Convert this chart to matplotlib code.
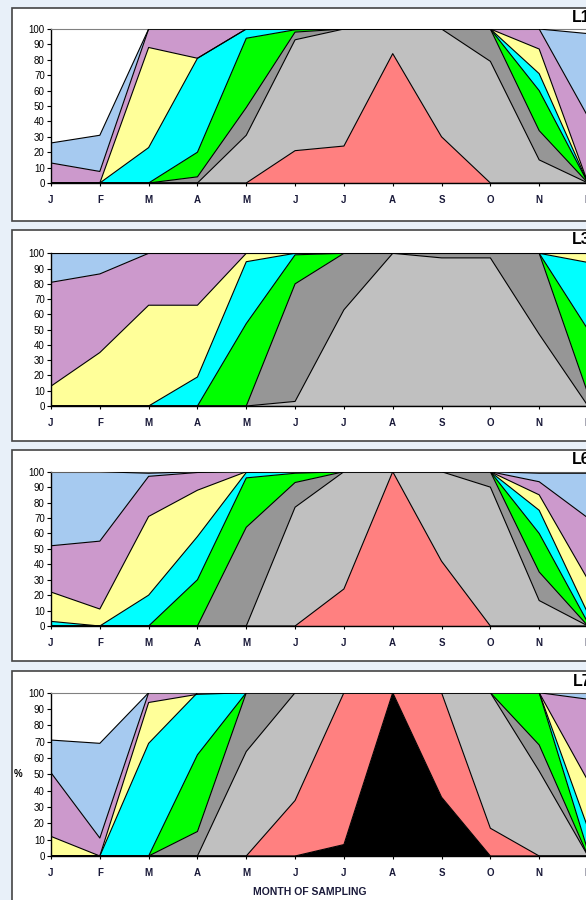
import matplotlib
matplotlib.use('Agg')
import matplotlib.pyplot as plt
import numpy as np
from matplotlib.patches import Rectangle

plt.rcParams['font.family'] = ['Liberation Sans', 'DejaVu Sans']

months = ['J', 'F', 'M', 'A', 'M', 'J', 'J', 'A', 'S', 'O', 'N', 'D']
band_colors = ['#000000', '#FF8080', '#C0C0C0', '#969696', '#00FF00',
               '#00FFFF', '#FFFF99', '#CC99CC', '#A6CAF0']

# cumulative top of each band (%), bottom band first
L1_black = [0, 0, 0, 0, 0, 0, 0, 0, 0, 0, 0, 0]
L1_red = [0, 0, 0, 0, 0, 21, 24, 84, 30, 0, 0, 0]
L1_lgray = [0, 0, 0, 0, 31, 93, 100, 100, 100, 79, 15, 0]
L1_dgray = [0, 0, 0, 4, 49, 98, 100, 100, 100, 100, 34, 0]
L1_green = [0, 0, 0, 20, 94, 99.5, 100, 100, 100, 100, 60, 0]
L1_cyan = [0, 0, 23, 81, 100, 100, 100, 100, 100, 100, 71, 0]
L1_yellow = [0, 0, 88, 81, 100, 100, 100, 100, 100, 100, 87, 0]
L1_lilac = [13, 7.5, 100, 100, 100, 100, 100, 100, 100, 100, 100, 43]
L1_blue = [26, 31, 100, 100, 100, 100, 100, 100, 100, 100, 100, 97]

L3_black = [0, 0, 0, 0, 0, 0, 0, 0, 0, 0, 0, 0]
L3_red = [0, 0, 0, 0, 0, 0, 0, 0, 0, 0, 0, 0]
L3_lgray = [0, 0, 0, 0, 0, 3, 63, 100, 97, 97, 47, 0]
L3_dgray = [0, 0, 0, 0, 0, 80, 100, 100, 100, 100, 100, 8]
L3_green = [0, 0, 0, 0, 54, 99, 100, 100, 100, 100, 100, 50]
L3_cyan = [0, 0, 0, 19, 94.5, 100, 100, 100, 100, 100, 100, 94]
L3_yellow = [13, 35, 66, 66, 100, 100, 100, 100, 100, 100, 100, 100]
L3_lilac = [81, 86.5, 100, 100, 100, 100, 100, 100, 100, 100, 100, 100]
L3_blue = [100, 100, 100, 100, 100, 100, 100, 100, 100, 100, 100, 100]

L6_black = [0, 0, 0, 0, 0, 0, 0, 0, 0, 0, 0, 0]
L6_red = [0, 0, 0, 0, 0, 0, 24, 100, 42, 0, 0, 0]
L6_lgray = [0, 0, 0, 0, 0, 77, 100, 100, 100, 90, 16.5, 0]
L6_dgray = [0, 0, 0, 0, 64, 93, 100, 100, 100, 100, 35, 0]
L6_green = [0, 0, 0, 30, 96, 99, 100, 100, 100, 100, 60, 2]
L6_cyan = [3, 0, 20, 58, 99.5, 100, 100, 100, 100, 100, 75, 8]
L6_yellow = [22, 11, 71, 88, 100, 100, 100, 100, 100, 100, 85, 30]
L6_lilac = [52, 55, 97, 99.5, 100, 100, 100, 100, 100, 100, 93.5, 70]
L6_blue = [100, 100, 99, 100, 100, 100, 100, 100, 100, 100, 99, 99]

L7_black = [0, 0, 0, 0, 0, 0, 7, 100, 36, 0, 0, 0]
L7_red = [0, 0, 0, 0, 0, 34, 100, 100, 100, 17, 0, 0]
L7_lgray = [0, 0, 0, 0, 64, 100, 100, 100, 100, 100, 52, 0]
L7_dgray = [0, 0, 0, 15, 100, 100, 100, 100, 100, 100, 68, 0]
L7_green = [0, 0, 0, 62, 100, 100, 100, 100, 100, 100, 100, 3]
L7_cyan = [0, 0, 69, 100, 100, 100, 100, 100, 100, 100, 100, 17]
L7_yellow = [12, 0, 94, 99, 100, 100, 100, 100, 100, 100, 100, 46]
L7_lilac = [51, 11, 100, 100, 100, 100, 100, 100, 100, 100, 100, 96]
L7_blue = [71, 69, 100, 100, 100, 100, 100, 100, 100, 100, 100, 100]

panels = [
    ('L1', [L1_black, L1_red, L1_lgray, L1_dgray, L1_green, L1_cyan, L1_yellow, L1_lilac, L1_blue]),
    ('L3', [L3_black, L3_red, L3_lgray, L3_dgray, L3_green, L3_cyan, L3_yellow, L3_lilac, L3_blue]),
    ('L6', [L6_black, L6_red, L6_lgray, L6_dgray, L6_green, L6_cyan, L6_yellow, L6_lilac, L6_blue]),
    ('L7', [L7_black, L7_red, L7_lgray, L7_dgray, L7_green, L7_cyan, L7_yellow, L7_lilac, L7_blue]),
]

W, H = 586, 900
fig = plt.figure(figsize=(W / 100, H / 100), dpi=100)
fig.patch.set_facecolor('#e8f0f9')

# panel boxes (px): top, bottom, axis y of 100, axis y of 0
boxes = [(8, 221, 29, 183), (230, 441, 253.3, 406), (450, 661, 471.7, 626), (671, 905, 692.7, 856)]
x0, x1 = 51, 588

for (name, tops), (btop, bbot, y100, y0) in zip(panels, boxes):
    fig.patches.append(Rectangle((12 / W, 1 - bbot / H), (W + 10 - 12) / W, (bbot - btop) / H,
                                 transform=fig.transFigure, facecolor='white',
                                 edgecolor='#444444', linewidth=1.2, zorder=-5))
    ax = fig.add_axes([x0 / W, 1 - y0 / H, (x1 - x0) / W, (y0 - y100) / H])
    ax.set_zorder(2)
    ax.set_facecolor('white')
    x = np.arange(len(months))
    prev = np.zeros(len(months))
    for top, col in zip(tops, band_colors):
        top = np.array(top, dtype=float)
        ax.fill_between(x, prev, top, facecolor=col, edgecolor='none', zorder=2)
        ax.plot(x, top, color='black', linewidth=0.8, zorder=3)
        prev = top
    ax.set_xlim(0, 11)
    ax.set_ylim(0, 100)
    ax.set_yticks(range(0, 101, 10))
    ax.set_xticks(x)
    ax.set_xticklabels(months, fontsize=7, fontweight='bold', color='#1a1a3a')
    ax.tick_params(axis='y', labelsize=7, length=3, width=0.8, pad=1.5)
    ax.tick_params(axis='x', direction='inout', length=5, width=0.8, pad=6)
    ax.spines['right'].set_visible(False)
    ax.spines['top'].set_color('#808080')
    for s in ('left', 'bottom'):
        ax.spines[s].set_linewidth(1.0)
    fig.text(591 / W, 1 - (btop + 10) / H, name, ha='right', va='center',
             fontsize=11.5, fontweight='bold', zorder=5)
    if name == 'L7':
        fig.text(18 / W, 1 - ((y0 + y100) / 2) / H, '%', ha='center', va='center',
                 fontsize=7, fontweight='bold', zorder=5)
        fig.text(310 / W, 1 - 892 / H, 'MONTH OF SAMPLING', ha='center', va='center',
                 fontsize=7.5, fontweight='bold', color='#1a1a3a', zorder=5)

fig.savefig('out.png', dpi=100, facecolor=fig.get_facecolor())
